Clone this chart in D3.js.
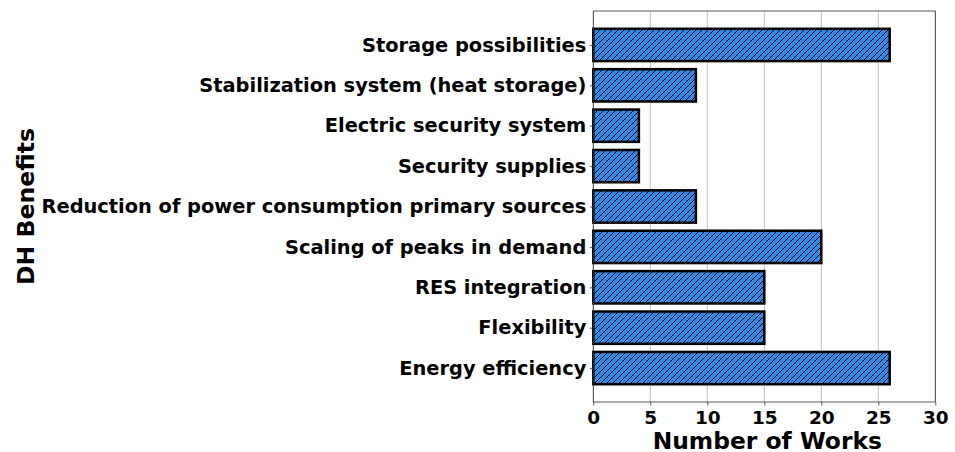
<!DOCTYPE html>
<html><head><meta charset="utf-8">
<script src="https://cdn.jsdelivr.net/npm/d3@7"></script>
<style>body{margin:0;background:#fff}svg{display:block}text{font-family:"DejaVu Sans";font-weight:bold}</style>
</head><body><svg id="c" width="955" height="452"></svg>
<script>
const categories = ["Energy efficiency","Flexibility","RES integration","Scaling of peaks in demand","Reduction of power consumption primary sources","Security supplies","Electric security system","Stabilization system (heat storage)","Storage possibilities"];
const values = [26,15,15,20,9,4,4,9,26];
const xTicks = [0,5,10,15,20,25,30];
const xTitle = "Number of Works";
const yTitle = "DH Benefits";

const svg = d3.select("#c");
const L=593.3, R=935.3, T=11, B=402;
const x = d3.scaleLinear().domain([0,30]).range([L,R]);
const y = d3.scaleLinear().domain([-0.84, categories.length-1+0.84]).range([B,T]);
const bh = y(0)-y(0.8);

const defs = svg.append("defs");
const pat = defs.append("pattern").attr("id","hatch").attr("patternUnits","userSpaceOnUse")
  .attr("width",6).attr("height",6);
pat.append("rect").attr("width",6).attr("height",6).attr("fill","#2f89e6");
pat.append("path").attr("d","M-1,1 l2,-2 M0,6 l6,-6 M5,7 l2,-2").attr("stroke","#000").attr("stroke-width",1);

// grid
svg.append("g").selectAll("line").data(xTicks).join("line")
  .attr("x1",d=>x(d)).attr("x2",d=>x(d)).attr("y1",T).attr("y2",B)
  .attr("stroke","#b0b0b0").attr("stroke-width",0.8);

// bars
svg.append("g").selectAll("rect").data(values).join("rect")
  .attr("x",x(0)).attr("y",(d,i)=>y(i)-bh/2)
  .attr("width",d=>x(d)-x(0)).attr("height",bh)
  .attr("fill","url(#hatch)").attr("stroke","#000").attr("stroke-width",2.5);

// frame
svg.append("rect").attr("x",L).attr("y",T).attr("width",R-L).attr("height",B-T)
  .attr("fill","none").attr("stroke","#333").attr("stroke-width",0.8);

// x axis
const xa = svg.append("g").attr("transform",`translate(0,${B})`)
  .call(d3.axisBottom(x).tickValues(xTicks).tickSize(3.5).tickPadding(5).tickFormat(d3.format("d")));
xa.select(".domain").remove();
xa.selectAll("line").attr("stroke","#333").attr("stroke-width",0.8);
xa.selectAll("text").attr("font-size",18.5).attr("fill","#000").attr("font-family","DejaVu Sans").attr("font-weight","bold");

// y axis
const ya = svg.append("g").attr("transform",`translate(${L},0)`)
  .call(d3.axisLeft(y).tickValues(d3.range(categories.length)).tickSize(3.5).tickPadding(3.5).tickFormat(i=>categories[i]));
ya.select(".domain").remove();
ya.selectAll("line").attr("stroke","#333").attr("stroke-width",0.8);
ya.selectAll("text").attr("font-size",19.4).attr("fill","#000").attr("font-family","DejaVu Sans").attr("font-weight","bold");

svg.append("text").attr("x",(L+R)/2+3).attr("y",449).attr("text-anchor","middle")
  .attr("font-size",23.4).text(xTitle);
svg.append("text").attr("transform",`translate(34,${(T+B)/2}) rotate(-90)`).attr("text-anchor","middle")
  .attr("font-size",23.6).text(yTitle);
</script></body></html>
